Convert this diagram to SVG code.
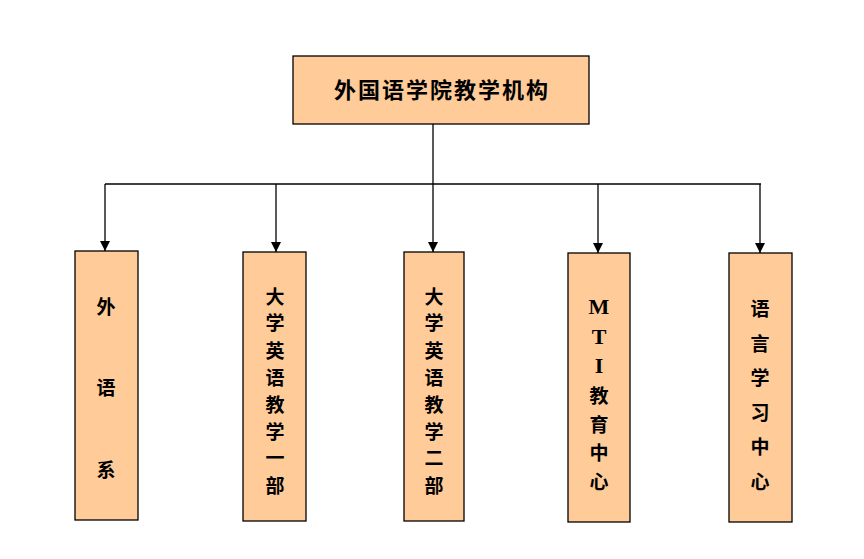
<svg xmlns="http://www.w3.org/2000/svg" width="864" height="559" viewBox="0 0 864 559">
<defs>
<marker id="arr" markerWidth="10" markerHeight="10" refX="10" refY="5" orient="auto" markerUnits="userSpaceOnUse">
<path d="M0,0 L10,5 L0,10 Z" fill="#000"/>
</marker>
<style>
.box{fill:#FFCC99;stroke:#000;stroke-width:1.3}
.t{font-family:"Liberation Serif","Noto Sans CJK SC",serif;font-weight:bold;font-size:19px;fill:#000;text-anchor:middle}
.lat{font-size:22px}
.title{font-family:"Liberation Serif","Noto Sans CJK SC",serif;font-weight:bold;font-size:22px;fill:#000;text-anchor:middle;letter-spacing:2px}
.c{stroke:#000;stroke-width:1.3;fill:none}
</style>
</defs>
<rect width="864" height="559" fill="#fff"/>
<g id="connectors">
<line class="c" x1="433" y1="124" x2="433" y2="184"/>
<line class="c" x1="105" y1="184" x2="761" y2="184"/>
<line class="c" x1="105" y1="184" x2="105" y2="251" marker-end="url(#arr)"/>
<line class="c" x1="276" y1="184" x2="276" y2="252" marker-end="url(#arr)"/>
<line class="c" x1="433" y1="184" x2="433" y2="252" marker-end="url(#arr)"/>
<line class="c" x1="598" y1="184" x2="598" y2="253" marker-end="url(#arr)"/>
<line class="c" x1="760" y1="184" x2="760" y2="253" marker-end="url(#arr)"/>
</g>
<g id="root">
<rect class="box" x="293" y="56" width="296" height="68"/>
<text class="title" x="442" y="98">外国语学院教学机构</text>
</g>
<g id="n1">
<rect class="box" x="75" y="251" width="63" height="269"/>
<text class="t" x="106" y="314">外</text>
<text class="t" x="106" y="395">语</text>
<text class="t" x="106" y="477">系</text>
</g>
<g id="n2">
<rect class="box" x="243" y="252" width="63" height="269"/>
<text class="t" x="275" y="304">大</text>
<text class="t" x="275" y="330">学</text>
<text class="t" x="275" y="358">英</text>
<text class="t" x="275" y="385">语</text>
<text class="t" x="275" y="412">教</text>
<text class="t" x="275" y="439">学</text>
<text class="t" x="275" y="465">一</text>
<text class="t" x="275" y="493">部</text>
</g>
<g id="n3">
<rect class="box" x="404" y="252" width="60" height="269"/>
<text class="t" x="434" y="304">大</text>
<text class="t" x="434" y="330">学</text>
<text class="t" x="434" y="358">英</text>
<text class="t" x="434" y="385">语</text>
<text class="t" x="434" y="412">教</text>
<text class="t" x="434" y="439">学</text>
<text class="t" x="434" y="465">二</text>
<text class="t" x="434" y="493">部</text>
</g>
<g id="n4">
<rect class="box" x="568" y="253" width="62" height="269"/>
<text class="t lat" x="599" y="314">M</text>
<text class="t lat" x="599" y="344">T</text>
<text class="t lat" x="599" y="373">I</text>
<text class="t" x="599" y="403">教</text>
<text class="t" x="599" y="432">育</text>
<text class="t" x="599" y="460">中</text>
<text class="t" x="599" y="489">心</text>
</g>
<g id="n5">
<rect class="box" x="729" y="253" width="63" height="269"/>
<text class="t" x="760" y="316">语</text>
<text class="t" x="760" y="351">言</text>
<text class="t" x="760" y="385">学</text>
<text class="t" x="760" y="420">习</text>
<text class="t" x="760" y="454">中</text>
<text class="t" x="760" y="489">心</text>
</g>
</svg>
